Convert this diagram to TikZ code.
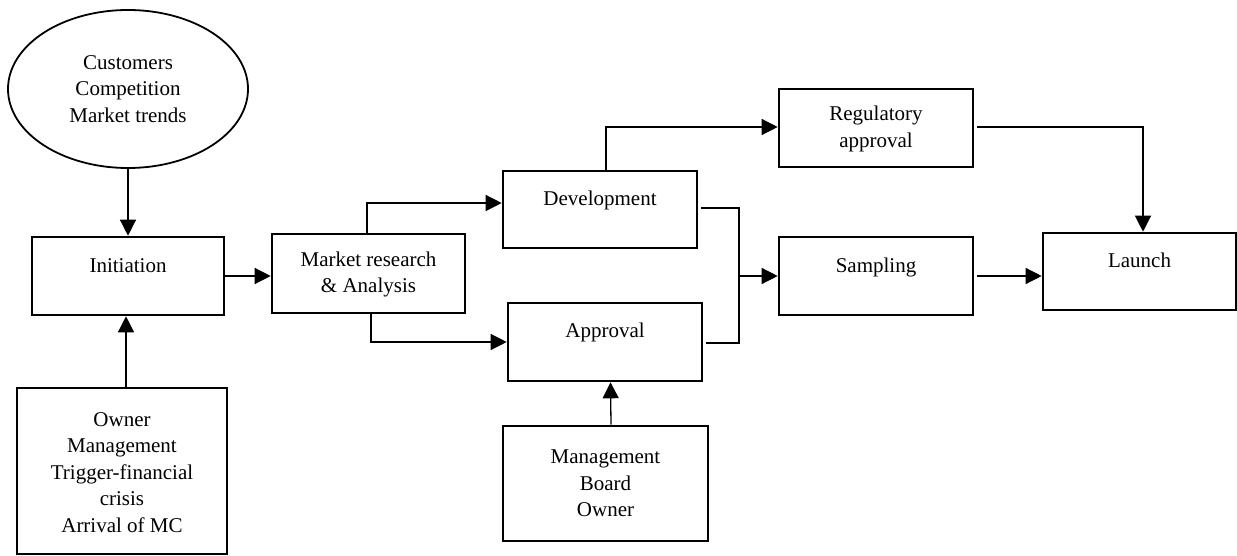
\documentclass[tikz,border=0pt]{standalone}
\usepackage{fontspec}
\setmainfont{Liberation Serif}
\usetikzlibrary{arrows.meta,shapes.geometric}
\begin{document}
\begin{tikzpicture}[x=1pt,y=-1pt,
  box/.style={draw,line width=2.6pt,rectangle,inner sep=0pt,minimum width=#1},
  txt/.style={inner sep=0pt,align=center,font=\fontsize{21}{26.5}\selectfont},
  link/.style={line width=1.3pt},
  arr/.style={link,-{Triangle[length=16pt,width=16pt]}}]
\useasboundingbox (0,0) rectangle (1237,556);

% boxes (centre, width, height in px)
\node[draw,line width=1.8pt,ellipse,minimum width=240pt,minimum height=158pt,inner sep=0pt] (src) at (128,89) {};
\node[box=192pt,minimum height=78pt]  (init) at (128,276) {};
\node[box=210pt,minimum height=166pt] (own)  at (122,471) {};
\node[box=193pt,minimum height=79pt]  (mkt)  at (368.5,273.5) {};
\node[box=194pt,minimum height=77pt]  (dev)  at (600,209.5) {};
\node[box=194pt,minimum height=78pt]  (appr) at (605,342) {};
\node[box=205pt,minimum height=115pt] (mgmt) at (605.5,483.5) {};
\node[box=194pt,minimum height=78pt]  (reg)  at (876,128) {};
\node[box=194pt,minimum height=78pt]  (samp) at (876,276) {};
\node[box=193pt,minimum height=77pt]  (lau)  at (1139.5,271.5) {};

% labels
\node[txt] (srcT)  at (128,90.6)  {\strut Customers\\\strut Competition\\\strut Market trends};
\node[txt] (initT) at (128,267.6) {\strut Initiation};
\node[txt] (ownT)  at (122,474)   {\strut Owner\\\strut Management\\\strut Trigger-financial\\\strut crisis\\\strut Arrival of MC};
\node[txt] (mktT)  at (368.5,274) {\strut Market research\\\strut \& Analysis};
\node[txt] (devT)  at (600,200.6) {\strut Development};
\node[txt] (apprT) at (605,332.6) {\strut Approval};
\node[txt] (mgmtT) at (605.5,484.9) {\strut Management\\\strut Board\\\strut Owner};
\node[txt] (regT)  at (876,128.8) {\strut Regulatory\\\strut approval};
\node[txt] (sampT) at (876,267)   {\strut Sampling};
\node[txt] (lauT)  at (1139.5,262) {\strut Launch};

% connectors
\coordinate (join) at (739,276);
\draw[arr] (src.south) -- (init.north);
\draw[arr] ([xshift=4pt]own.north) -- ([xshift=-2pt]init.south);
\draw[arr] (init.east) -- (init.east -| mkt.west);
\draw[arr] ([xshift=-1.5pt]mkt.north) |- ([yshift=6.5pt]dev.west);
\draw[arr] ([xshift=2.5pt]mkt.south) |- (appr.west);
\draw[arr] ([xshift=6pt]dev.north) |- ([yshift=1pt]reg.west);
\draw[link] ([xshift=3pt,yshift=1.5pt]dev.east) -| (join);
\draw[link] ([xshift=3pt,yshift=-1pt]appr.east) -| (join);
\draw[arr] (join) -- (samp.west);
\draw[arr] ([xshift=3pt,yshift=1pt]reg.east) -| ([xshift=3.5pt]lau.north);
\draw[arr] ([xshift=3pt]samp.east) -- (samp.east -| lau.west);
\draw[arr] ([xshift=5.5pt]mgmt.north) -- ([xshift=5.5pt]appr.south);
\end{tikzpicture}
\end{document}
